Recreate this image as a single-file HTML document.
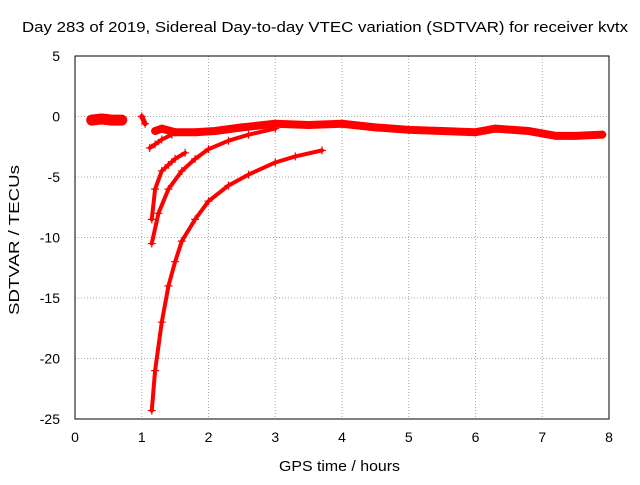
<!DOCTYPE html>
<html><head><meta charset="utf-8"><style>
body{margin:0;background:#fff;}
svg{font-family:"Liberation Sans",sans-serif;font-size:14px;}
</style></head><body>
<svg id="chart" width="640" height="480">
<rect width="640" height="480" fill="#fff"/>
<text x="22" y="32" textLength="606" lengthAdjust="spacingAndGlyphs" font-size="15">Day 283 of 2019, Sidereal Day-to-day VTEC variation (SDTVAR) for receiver kvtx</text>
<text x="279" y="471" textLength="121" lengthAdjust="spacingAndGlyphs" font-size="15">GPS time / hours</text>
<text transform="translate(19,315) rotate(-90)" textLength="150" lengthAdjust="spacingAndGlyphs" font-size="15">SDTVAR / TECUs</text>
<g id="grid"></g><g id="ticks"></g><g id="series"></g>
<rect x="75" y="56" width="534" height="363" fill="none" stroke="#000"/>
</svg>
<script>
const xTicks=[0,1,2,3,4,5,6,7,8];
const yTicks=[5,0,-5,-10,-15,-20,-25];
const seriesMainX=[0.25,0.4,0.55,0.7,1.0,1.05];
const seriesMainY=[-0.3,-0.2,-0.3,-0.3,0,-0.6];
const seriesBandX=[1.2,1.3,1.5,1.8,2.1,2.5,3.0,3.5,4.0,4.5,5.0,5.5,6.0,6.3,6.8,7.2,7.5,7.9];
const seriesBandY=[-1.2,-1.0,-1.3,-1.3,-1.2,-0.9,-0.6,-0.7,-0.6,-0.9,-1.1,-1.2,-1.3,-1.0,-1.2,-1.6,-1.6,-1.5];
const seriesBranchX=[1.12,1.2,1.3,1.45];
const seriesBranchY=[-2.6,-2.3,-1.9,-1.5];
const seriesBX=[1.15,1.2,1.3,1.4,1.5,1.65];
const seriesBY=[-8.5,-6,-4.5,-4,-3.5,-3];
const seriesCX=[1.15,1.25,1.4,1.6,1.8,2.0,2.3,2.6,3.0];
const seriesCY=[-10.5,-8,-6,-4.5,-3.5,-2.7,-2.0,-1.5,-1.0];
const seriesDX=[1.15,1.2,1.3,1.4,1.5,1.6,1.8,2.0,2.3,2.6,3.0,3.3,3.7];
const seriesDY=[-24.3,-21,-17,-14,-12,-10.3,-8.5,-7,-5.7,-4.8,-3.8,-3.3,-2.8];
const NS="http://www.w3.org/2000/svg";
const X=v=>75+v*(534/8), Y=v=>56+(5-v)*(363/30);
function mk(t,a,p){const e=document.createElementNS(NS,t);for(const k in a)e.setAttribute(k,a[k]);p.appendChild(e);return e;}
const g=document.getElementById('grid'),tk=document.getElementById('ticks'),s=document.getElementById('series');
xTicks.forEach(v=>{
 if(v>0&&v<8){const l=mk('line',{x1:X(v),x2:X(v),y1:56,y2:419,stroke:'#aaa','stroke-dasharray':'1,2'},g);
 }
 const t=mk('text',{x:X(v),y:442,'text-anchor':'middle'},tk);t.textContent=v;
 
});
yTicks.forEach(v=>{
 if(v<5&&v>-25){const l=mk('line',{x1:75,x2:609,y1:Y(v),y2:Y(v),stroke:'#aaa','stroke-dasharray':'1,2'},g);
 }
 const t=mk('text',{x:60,y:Y(v)+5,'text-anchor':'end'},tk);t.textContent=v;
 
});
function draw(xs,ys,name,w){
 const pl=mk('polyline',{points:xs.map((x,i)=>X(x)+','+Y(ys[i])).join(' '),fill:'none',stroke:'#f00','stroke-width':w,'stroke-linejoin':'round','stroke-linecap':'round'},s);
 
 xs.forEach((x,i)=>{const px=X(x),py=Y(ys[i]);
  const p=mk('path',{d:`M${px-4},${py}h8M${px},${py-4}v8`,stroke:'#f00','stroke-width':1.2},s);
  });
}
draw(seriesMainX.slice(0,4),seriesMainY.slice(0,4),'series-early',11);
draw(seriesMainX.slice(4),seriesMainY.slice(4),'series-early-b',5);
draw(seriesBandX,seriesBandY,'series-main-band',8);
draw(seriesBranchX,seriesBranchY,'series-branch',4);
draw(seriesBX,seriesBY,'series-b',4);
draw(seriesCX,seriesCY,'series-c',4);
draw(seriesDX,seriesDY,'series-d',4);
</script>
</body></html>
